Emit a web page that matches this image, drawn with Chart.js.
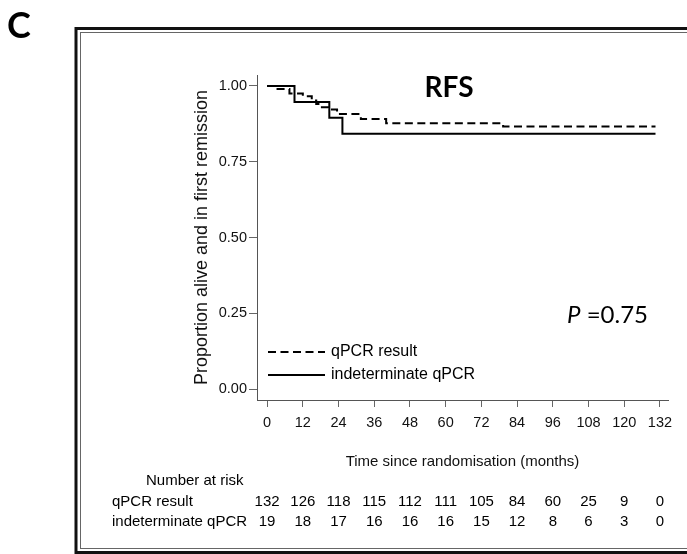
<!DOCTYPE html>
<html>
<head>
<meta charset="utf-8">
<script src="https://cdn.jsdelivr.net/npm/chart.js"></script>
<style>
  html, body { margin: 0; padding: 0; background: #fff; }
  #wrap { width: 687px; height: 554px; }
</style>
</head>
<body>
<div id="wrap"><canvas id="chart" width="687" height="554"></canvas></div>
<script>
// KM steps (months, proportion)
const qpcrTimes = [0, 3.5, 7.5, 12, 15, 16.5, 18, 20.5, 23.5, 31.5, 40, 79.3, 130.5];
const qpcrSurv = [1.0, 0.990, 0.975, 0.966, 0.952, 0.940, 0.930, 0.922, 0.907, 0.891, 0.877, 0.866, 0.866];
const indetTimes = [0, 9.2, 20.9, 25.3, 130.5];
const indetSurv = [1.0, 0.947, 0.895, 0.842, 0.842];

const xTicks = [0, 12, 24, 36, 48, 60, 72, 84, 96, 108, 120, 132];
const yTicks = [0, 0.25, 0.5, 0.75, 1];

const seriesNames = ['qPCR result', 'indeterminate qPCR'];
const riskQpcr = [132, 126, 118, 115, 112, 111, 105, 84, 60, 25, 9, 0];
const riskIndet = [19, 18, 17, 16, 16, 16, 15, 12, 8, 6, 3, 0];

const SANS = '"Liberation Sans", Arial, sans-serif';
const CAL = 'Lato, "Open Sans", sans-serif';

const toPoints = (t, s) => t.map((v, i) => ({ x: v, y: s[i] }));

// frame, labels, legend and the number-at-risk table
const extras = {
  id: 'extras',
  beforeDraw(chart) {
    const ctx = chart.ctx;
    ctx.save();
    ctx.fillStyle = '#fff';
    ctx.fillRect(0, 0, chart.width, chart.height);
    // double frame (right side runs off the picture)
    ctx.strokeStyle = '#111';
    ctx.lineWidth = 3;
    ctx.strokeRect(76, 28.5, 640, 524);
    ctx.strokeStyle = '#666';
    ctx.lineWidth = 1;
    ctx.strokeRect(80.5, 32.5, 640, 516);
    ctx.restore();
  },
  afterDraw(chart) {
    const ctx = chart.ctx;
    const x = chart.scales.x;
    ctx.save();
    ctx.fillStyle = '#000';
    ctx.textBaseline = 'middle';

    ctx.font = 'bold 36px ' + CAL;
    ctx.textAlign = 'left';
    ctx.fillText('C', 7, 26);

    ctx.font = 'bold 28px ' + CAL;
    ctx.textAlign = 'center';
    ctx.fillText('RFS', 449, 88);

    ctx.textAlign = 'left';
    ctx.font = 'italic 24px ' + CAL;
    ctx.fillText('P', 567, 315);
    const pw = ctx.measureText('P').width;
    ctx.font = '24px ' + CAL;
    ctx.fillText(' =0.75', 567 + pw, 315);

    // legend inside the plot
    const rows = [352, 375];
    chart.data.datasets.forEach((ds, i) => {
      ctx.strokeStyle = ds.borderColor;
      ctx.lineWidth = ds.borderWidth;
      ctx.setLineDash(ds.borderDash || []);
      ctx.beginPath();
      ctx.moveTo(268, rows[i]);
      ctx.lineTo(325, rows[i]);
      ctx.stroke();
      ctx.setLineDash([]);
      ctx.font = '16px ' + SANS;
      ctx.fillText(ds.label, 331, rows[i]);
    });

    // number at risk
    ctx.font = '15px ' + SANS;
    ctx.fillText('Number at risk', 146, 481);
    const table = [riskQpcr, riskIndet];
    const tableY = [502, 522];
    table.forEach((row, r) => {
      ctx.textAlign = 'left';
      ctx.fillText(seriesNames[r], 112, tableY[r]);
      ctx.textAlign = 'center';
      row.forEach((n, i) => ctx.fillText(String(n), x.getPixelForValue(xTicks[i]), tableY[r]));
    });
    ctx.restore();
  }
};

new Chart(document.getElementById('chart'), {
  type: 'line',
  data: {
    datasets: [
      {
        label: seriesNames[0],
        data: toPoints(qpcrTimes, qpcrSurv),
        stepped: true,
        borderColor: '#000',
        borderWidth: 2,
        borderDash: [8, 4.5],
        pointRadius: 0,
        fill: false
      },
      {
        label: seriesNames[1],
        data: toPoints(indetTimes, indetSurv),
        stepped: true,
        borderColor: '#000',
        borderWidth: 2,
        pointRadius: 0,
        fill: false
      }
    ]
  },
  options: {
    responsive: false,
    animation: false,
    devicePixelRatio: 1,
    layout: { padding: { left: 190, right: 19, top: 75, bottom: 82 } },
    plugins: {
      legend: { display: false },
      tooltip: { enabled: false }
    },
    scales: {
      x: {
        type: 'linear',
        min: -3.4,
        max: 134.7,
        afterBuildTicks: s => { s.ticks = xTicks.map(v => ({ value: v })); },
        afterFit: s => { s.height = 72; },
        grid: { drawOnChartArea: false, tickLength: 7, color: '#666' },
        border: { color: '#555', width: 1 },
        ticks: {
          color: '#111',
          padding: 7,
          maxRotation: 0,
          autoSkip: false,
          font: { family: SANS, size: 14.5 }
        },
        title: {
          display: true,
          text: 'Time since randomisation (months)',
          color: '#111',
          padding: { top: 0, bottom: 1.5 },
          font: { family: SANS, size: 15 }
        }
      },
      y: {
        min: -0.036,
        max: 1.036,
        afterBuildTicks: s => { s.ticks = yTicks.map(v => ({ value: v })); },
        afterFit: s => { s.width = 67; },
        grid: { drawOnChartArea: false, tickLength: 8, color: '#666' },
        border: { color: '#555', width: 1 },
        ticks: {
          color: '#111',
          padding: 2,
          autoSkip: false,
          callback: v => v.toFixed(2),
          font: { family: SANS, size: 14.5 }
        },
        title: {
          display: true,
          text: 'Proportion alive and in first remission',
          color: '#111',
          padding: { top: 1, bottom: 0 },
          font: { family: SANS, size: 18 }
        }
      }
    }
  },
  plugins: [extras]
});
</script>
</body>
</html>
